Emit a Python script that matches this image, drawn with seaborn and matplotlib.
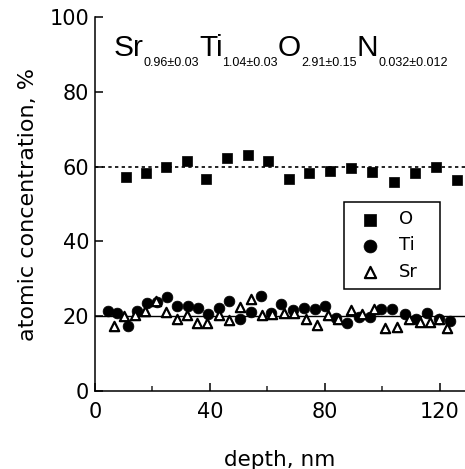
import matplotlib
matplotlib.use('Agg')
import matplotlib.pyplot as plt
import seaborn as sns
from matplotlib.ticker import MultipleLocator

# O (squares), Ti (circles), Sr (triangles) vs depth
o_depth = [11.0, 17.8, 24.7, 31.9, 38.7, 46.1, 53.1, 60.1, 67.4, 74.4, 81.7, 88.9,
           96.2, 104.0, 111.2, 118.5, 126.0]
o_conc = [57.3, 58.4, 60.0, 61.6, 56.8, 62.2, 63.1, 61.6, 56.8, 58.4, 58.7, 59.6,
          58.5, 56.0, 58.4, 59.8, 56.4]

ti_depth = [4.6, 7.8, 11.6, 14.7, 18.2, 21.5, 25.2, 28.7, 32.3, 35.8, 39.3, 43.0,
            46.6, 50.4, 54.2, 57.6, 61.2, 64.7, 68.9, 72.6, 76.7, 80.1, 83.9, 87.7,
            91.7, 95.8, 99.5, 103.4, 108.0, 111.5, 115.6, 119.6, 123.4]
ti_conc = [21.5, 20.8, 17.4, 21.5, 23.6, 23.8, 25.2, 22.7, 22.7, 22.1, 20.5, 22.3,
           24.0, 19.4, 21.2, 25.5, 21.0, 23.2, 21.7, 22.3, 21.9, 22.8, 19.6, 18.1,
           19.9, 19.9, 21.9, 21.9, 20.5, 19.4, 21.0, 19.4, 18.7]

sr_depth = [6.7, 10.2, 13.9, 17.4, 21.3, 24.7, 28.5, 31.9, 35.4, 38.9, 43.0, 46.7,
            50.4, 54.2, 58.1, 61.6, 65.6, 69.1, 73.5, 77.2, 80.9, 84.5, 88.9, 92.9,
            97.0, 101.0, 105.1, 109.2, 113.0, 116.7, 119.5, 122.3]
sr_conc = [17.4, 20.1, 20.3, 21.5, 24.0, 21.2, 19.2, 20.3, 18.1, 18.3, 20.3, 19.1,
           22.5, 24.5, 20.3, 20.5, 20.8, 20.8, 19.4, 17.8, 20.3, 19.4, 21.7, 20.5,
           21.9, 16.8, 17.2, 19.4, 18.4, 18.4, 19.4, 16.9]

formula_parts = [('Sr', '0.96±0.03'), ('Ti', '1.04±0.03'),
                 ('O', '2.91±0.15'), ('N', '0.032±0.012')]

sns.set_style('ticks')
plt.rcParams['font.family'] = ['DejaVu Sans']
plt.rcParams['text.color'] = 'black'

fig = plt.figure(figsize=(4.65, 4.69), dpi=100)
ax = fig.add_axes([0.204, 0.166, 0.796, 0.798])

# reference lines
ax.axhline(60, color='black', ls=(0, (2, 2)), lw=1.2, zorder=1)
ax.axhline(20, color='black', lw=1.0, zorder=1)

sns.scatterplot(x=o_depth, y=o_conc, marker='s', s=58, color='black',
                edgecolor='black', linewidth=0.5, label='O', ax=ax, zorder=3)
sns.scatterplot(x=ti_depth, y=ti_conc, marker='o', s=60, color='black',
                edgecolor='black', linewidth=0.5, label='Ti', ax=ax, zorder=3)
sns.scatterplot(x=sr_depth, y=sr_conc, marker='^', s=45, color='white',
                edgecolor='black', linewidth=1.6, label='Sr', ax=ax, zorder=4)

ax.set_xlim(0, 128.7)
ax.set_ylim(0, 100)
ax.xaxis.set_major_locator(MultipleLocator(40))
ax.xaxis.set_minor_locator(MultipleLocator(20))
ax.yaxis.set_major_locator(MultipleLocator(20))
ax.tick_params(axis='both', which='major', direction='in', length=6, width=1.1,
               labelsize=15, colors='black')
ax.tick_params(axis='x', which='major', pad=8)
ax.tick_params(axis='y', which='major', pad=4)
ax.tick_params(axis='x', which='minor', direction='in', length=3.3, width=1.1)

sns.despine(ax=ax)
for side in ['left', 'bottom']:
    ax.spines[side].set_linewidth(1.1)
    ax.spines[side].set_color('black')

ax.set_xlabel('depth, nm', fontsize=15.5, labelpad=20, color='black')
ax.set_ylabel('atomic concentration, %', fontsize=16, labelpad=8, color='black')

leg = ax.legend(loc='upper left', bbox_to_anchor=(0.673, 0.275, 0.259, 0.23),
                mode='expand', fontsize=13, frameon=True, fancybox=False,
                framealpha=1, edgecolor='black', borderpad=0.45,
                handletextpad=0.6, labelspacing=0.45, borderaxespad=0,
                markerscale=1.2)
leg.get_frame().set_linewidth(1.1)

# chemical formula with subscripts
y_main, y_sub = 89.6, 87.0
prev = None
for el, sub in formula_parts:
    if prev is None:
        t = ax.text(6.5, y_main, el, fontsize=21.5, family='Liberation Sans',
                    va='baseline', ha='left', color='black')
    else:
        t = ax.annotate(el, xy=(1, y_main), xycoords=(prev, 'data'), fontsize=21.5,
                        family='Liberation Sans', va='baseline', ha='left',
                        color='black')
    prev = ax.annotate(sub, xy=(1, y_sub), xycoords=(t, 'data'), fontsize=9,
                       family='Liberation Sans', va='baseline', ha='left',
                       color='black')

fig.savefig('out.png', dpi=100)
